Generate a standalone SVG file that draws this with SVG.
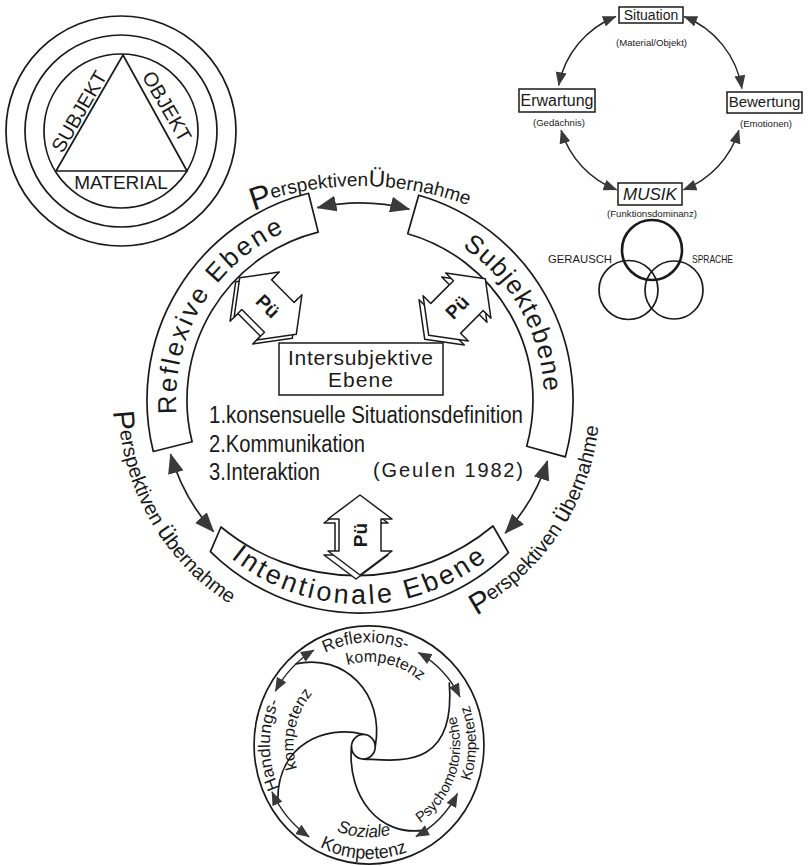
<svg xmlns="http://www.w3.org/2000/svg" width="809" height="866" viewBox="0 0 809 866">
<defs>
<style>
.ln{fill:none;stroke:#1a1a1a;stroke-width:1.7}
.band{fill:#fff;stroke:#1a1a1a;stroke-width:1.7;stroke-linejoin:round}
.t{font-family:"Liberation Sans",Arial,sans-serif;fill:#1a1a1a}
.arr{fill:none;stroke:#222;stroke-width:1.7;marker-start:url(#ahL);marker-end:url(#ahL)}
.arrs{fill:none;stroke:#222;stroke-width:1.4;marker-start:url(#ahS);marker-end:url(#ahS)}
.pu{fill:#fff;stroke:#1a1a1a;stroke-width:1.5;stroke-linejoin:round}
.box{fill:#fff;stroke:#1a1a1a;stroke-width:1.5}
</style>
<marker id="ahL" viewBox="0 0 20 16" refX="19" refY="8" markerWidth="20" markerHeight="16" markerUnits="userSpaceOnUse" orient="auto-start-reverse"><path d="M0,0 L20,8 L0,16 Z" fill="#3a3a3a"/></marker>
<marker id="ahS" viewBox="0 0 20 16" refX="19" refY="8" markerWidth="14" markerHeight="11" markerUnits="userSpaceOnUse" orient="auto-start-reverse"><path d="M0,0 L20,8 L0,16 Z" fill="#3a3a3a"/></marker>
<polygon id="puShape" points="-40,0 -16,-32 -16,-21 16,-21 16,-32 40,0 16,32 16,21 -16,21 -16,32"/>
<path id="tpRefl" d="M200.7,492 A184,184 0 0 1 366.4,216.1"/>
<path id="tpSubj" d="M360,216 A184,184 0 0 1 517.1,495.9"/>
<path id="tpInt" d="M168.3,469.8 A204,204 0 0 0 551.7,469.8"/>
<path id="tpPTop" d="M119.5,298.2 A314,314 0 0 1 600.5,298.2"/>
<path id="tpPLeft" d="M150.4,279 A242,242 0 0 0 360,642"/>
<path id="tpPRight" d="M343.3,639.4 A240,240 0 0 0 575.7,294.8"/>
<path id="cRefl" d="M-88.3,-47 A100,100 0 0 1 84.8,-53"/>
<path id="cKomp1" d="M-60.2,-54.2 A81,81 0 0 1 77,-25"/>
<path id="cHand" d="M-50,86.6 A100,100 0 0 1 -50,-86.6"/>
<path id="cKomp2" d="M-50.9,56.5 A76,76 0 0 1 -23.5,-72.3"/>
<path id="cPsych" d="M17.6,90.3 A92,92 0 0 0 69.4,-60.4"/>
<path id="cKomp3" d="M55.6,92.6 A108,108 0 0 0 52.4,-94.5"/>
<path id="cSoz" d="M-80.5,40.2 A90,90 0 0 0 75,49.7"/>
<path id="cKomp4" d="M-98.9,50.4 A111,111 0 0 0 93.1,60.5"/>
</defs>
<rect x="0" y="0" width="809" height="866" fill="#fff"/>

<!-- top-left triad -->
<g id="triad">
<circle cx="121" cy="131" r="115" class="ln"/>
<circle cx="121" cy="131" r="96" class="ln"/>
<circle cx="121" cy="131" r="77" class="ln"/>
<polygon points="123,55 56,171 187,171" class="ln"/>
<text class="t" font-size="20" text-anchor="middle" transform="translate(85,115) rotate(-60)">SUBJEKT</text>
<text class="t" font-size="20" text-anchor="middle" transform="translate(161,110) rotate(60)">OBJEKT</text>
<text class="t" font-size="19" x="121" y="189" text-anchor="middle">MATERIAL</text>
</g>

<!-- top-right cycle -->
<g id="situation">
<rect x="619" y="7" width="64" height="16" class="box"/>
<text class="t" font-size="14" x="651" y="20" text-anchor="middle">Situation</text>
<text class="t" font-size="9" x="616" y="46" textLength="71" lengthAdjust="spacingAndGlyphs">(Material/Objekt)</text>
</g>
<g id="erwartung">
<rect x="519" y="89" width="76" height="23" class="box"/>
<text class="t" font-size="16" x="557" y="106" text-anchor="middle">Erwartung</text>
<text class="t" font-size="9" x="533" y="126" textLength="52" lengthAdjust="spacingAndGlyphs">(Gedächnis)</text>
</g>
<g id="bewertung">
<rect x="727" y="92" width="75" height="21" class="box"/>
<text class="t" font-size="15" x="764.5" y="107" text-anchor="middle">Bewertung</text>
<text class="t" font-size="9" x="740" y="127" textLength="52" lengthAdjust="spacingAndGlyphs">(Emotionen)</text>
</g>
<g id="musik">
<rect x="618" y="183" width="64" height="22" class="box"/>
<text class="t" font-size="17" font-style="italic" x="650" y="200" text-anchor="middle">MUSIK</text>
<text class="t" font-size="9" x="607" y="217" textLength="90" lengthAdjust="spacingAndGlyphs">(Funktionsdominanz)</text>
</g>
<g id="venn">
<circle cx="652" cy="250" r="30" fill="none" stroke="#1a1a1a" stroke-width="2.6"/>
<circle cx="628.5" cy="290" r="29.5" class="ln"/>
<circle cx="674" cy="290" r="29" class="ln"/>
<text class="t" font-size="11" x="548" y="263" textLength="64" lengthAdjust="spacingAndGlyphs">GERAUSCH</text>
<text class="t" font-size="11" x="692" y="263" textLength="41" lengthAdjust="spacingAndGlyphs">SPRACHE</text>
</g>

<!-- main ring bands -->
<g id="reflexive-ebene">
<path class="band" d="M153.3,451.5 A213,213 0 0 1 308.5,193.3 L318.2,232.1 A173,173 0 0 0 192.1,441.8 Z"/>
<text class="t" font-size="26" letter-spacing="2.5"><textPath href="#tpRefl" startOffset="50%" text-anchor="middle">Reflexive Ebene</textPath></text>
</g>
<g id="subjektebene">
<path class="band" d="M418.7,195.2 A213,213 0 0 1 565.3,456.9 L526.7,446.2 A173,173 0 0 0 407.7,233.7 Z"/>
<text class="t" font-size="26" letter-spacing="1.2"><textPath href="#tpSubj" startOffset="50%" text-anchor="middle">Subjektebene</textPath></text>
</g>
<g id="intentionale-ebene">
<path class="band" d="M210.4,551.7 A213,213 0 0 0 508.5,552.7 L493,526 A213,213 0 0 1 221,527 Z"/>
<text class="t" font-size="27" letter-spacing="3"><textPath href="#tpInt" startOffset="50%" text-anchor="middle">Intentionale Ebene</textPath></text>
</g>

<!-- Pü arrows -->
<g id="pue-left">
<use href="#puShape" class="pu" transform="translate(264,310) rotate(45)"/>
<use href="#puShape" class="pu" transform="translate(268,306) rotate(45)"/>
<text class="t" font-size="19" font-weight="bold" text-anchor="middle" x="0" y="7" transform="translate(268,306) rotate(45)">Pü</text>
</g>
<g id="pue-right">
<use href="#puShape" class="pu" transform="translate(453,311) rotate(-45)"/>
<use href="#puShape" class="pu" transform="translate(457,307) rotate(-45)"/>
<text class="t" font-size="19" font-weight="bold" text-anchor="middle" x="0" y="7" transform="translate(457,307) rotate(-45)">Pü</text>
</g>
<g id="pue-bottom">
<use href="#puShape" class="pu" transform="translate(356,539) rotate(90)"/>
<use href="#puShape" class="pu" transform="translate(360,535) rotate(90)"/>
<text class="t" font-size="19" font-weight="bold" text-anchor="middle" x="0" y="7" transform="translate(360,535) rotate(-90)">Pü</text>
</g>

<!-- intersubjective centre -->
<g id="intersubjektive-ebene">
<rect x="279" y="343" width="164" height="52" class="box"/>
<text class="t" font-size="21" x="288" y="365" textLength="145" lengthAdjust="spacing">Intersubjektive</text>
<text class="t" font-size="21" x="328" y="387" textLength="65" lengthAdjust="spacing">Ebene</text>
</g>
<g id="liste">
<text class="t" font-size="23" x="209" y="423" textLength="314" lengthAdjust="spacingAndGlyphs">1.konsensuelle Situationsdefinition</text>
<text class="t" font-size="23" x="209" y="452" textLength="156" lengthAdjust="spacingAndGlyphs">2.Kommunikation</text>
<text class="t" font-size="23" x="209" y="480" textLength="111" lengthAdjust="spacingAndGlyphs">3.Interaktion</text>
<text class="t" font-size="20" x="373" y="477" textLength="150" lengthAdjust="spacing">(Geulen 1982)</text>
</g>

<!-- Perspektivenübernahme labels -->
<g id="pue-label-top">
<text class="t" font-size="19"><textPath href="#tpPTop" startOffset="50%" text-anchor="middle"><tspan font-size="32" dy="6">P</tspan><tspan dy="-6">erspektiven</tspan><tspan font-size="23">Ü</tspan>bernahme</textPath></text>
</g>
<g id="pue-label-left">
<text class="t" font-size="20"><textPath href="#tpPLeft" startOffset="50%" text-anchor="middle"><tspan font-size="30" dy="5">P</tspan><tspan dy="-5">erspektiven </tspan><tspan font-size="25">ü</tspan>bernahme</textPath></text>
</g>
<g id="pue-label-right">
<text class="t" font-size="20"><textPath href="#tpPRight" startOffset="50%" text-anchor="middle"><tspan font-size="30" dy="5">P</tspan><tspan dy="-5">erspektiven </tspan><tspan font-size="25">ü</tspan>bernahme</textPath></text>
</g>

<!-- competence wheel -->
<g id="kompetenz-rad" transform="translate(369,745) scale(0.991,1.026)">
<circle cx="0" cy="0" r="116" class="ln"/>
<circle cx="-5.7" cy="1.7" r="12" class="ln"/>
<g id="spirale">
<path class="ln" d="M-74,-79 C-25,-90 16,-50 6.3,1.7"/>
<path class="ln" d="M81,-61 C88,25 30,15 -5.7,13.7"/>
<path class="ln" d="M56,83 C10,90 -22,50 -17.7,1.7"/>
<path class="ln" d="M-92,53 C-92,0 -45,-20 -5.7,-10.3"/>
</g>
<g id="rad-pfeile">
<path class="arrs" d="M-94.5,-52.4 A108,108 0 0 1 -55.6,-92.6"/>
<path class="arrs" d="M49.9,-90.1 A103,103 0 0 1 91.8,-46.8"/>
<path class="arrs" d="M89.2,47.4 A101,101 0 0 1 47.4,89.2"/>
<path class="arrs" d="M-60.4,89.5 A108,108 0 0 1 -97.9,45.6"/>
</g>
<g id="reflexionskompetenz">
<text class="t" font-size="17"><textPath href="#cRefl" startOffset="50%" text-anchor="middle">Reflexions-</textPath></text>
<text class="t" font-size="16"><textPath href="#cKomp1" startOffset="50%" text-anchor="middle">kompetenz</textPath></text>
</g>
<g id="handlungskompetenz">
<text class="t" font-size="17"><textPath href="#cHand" startOffset="50%" text-anchor="middle">Handlungs-</textPath></text>
<text class="t" font-size="16"><textPath href="#cKomp2" startOffset="50%" text-anchor="middle">kompetenz</textPath></text>
</g>
<g id="psychomotorische-kompetenz">
<text class="t" font-size="14.5"><textPath href="#cPsych" startOffset="50%" text-anchor="middle">Psychomotorische</textPath></text>
<text class="t" font-size="15"><textPath href="#cKomp3" startOffset="50%" text-anchor="middle">Kompetenz</textPath></text>
</g>
<g id="soziale-kompetenz">
<text class="t" font-size="17" font-style="italic"><textPath href="#cSoz" startOffset="50%" text-anchor="middle">Soziale</textPath></text>
<text class="t" font-size="18"><textPath href="#cKomp4" startOffset="50%" text-anchor="middle">Kompetenz</textPath></text>
</g>
</g>

<!-- connectors -->
<g id="connectors">
<path class="arr" d="M317.4,207.7 A197,197 0 0 1 409.3,209.3"/>
<path class="arr" d="M170.6,454.3 A197,197 0 0 0 213.6,531.8"/>
<path class="arr" d="M547.4,460.9 A197,197 0 0 1 505.2,533.2"/>
<path class="arrs" d="M558.7,85.3 A93,93 0 0 1 615.9,16.5"/>
<path class="arrs" d="M684.1,16.5 A93,93 0 0 1 741.9,88.5"/>
<path class="arrs" d="M561.1,130.2 A93,93 0 0 0 616.7,189.8"/>
<path class="arrs" d="M738.9,130.2 A93,93 0 0 1 683.3,189.8"/>
</g>
</svg>
